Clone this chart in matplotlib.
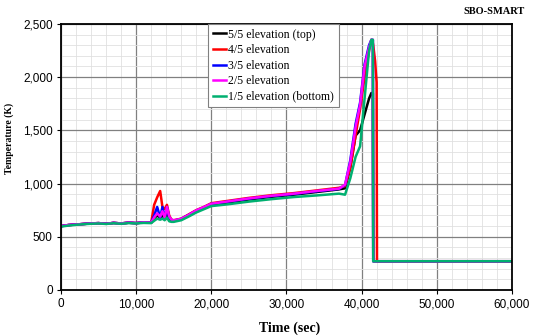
import matplotlib
matplotlib.use("Agg")
from matplotlib import pyplot as plt
from matplotlib.ticker import MultipleLocator, FuncFormatter

# time axis (sec), shared by all elevations
time = [0, 1000, 2000, 3000, 4000, 5000, 6000, 7000, 8000, 9000, 10000, 11000, 12000,
        12400, 12800, 13200, 13500, 13800, 14100, 14400, 14700, 15000,
        16000, 17000, 18000, 19000, 20000, 22000, 25000, 28000, 31000, 34000, 37000,
        37800, 38500, 39200, 39800, 40400, 41000, 41300, 41500, 41550, 41800, 42000, 42050, 60000]

temp_top = [600, 610, 615, 620, 625, 628, 622, 630, 625, 632, 628, 635, 632,
            670, 700, 680, 700, 670, 720, 670, 655, 650,
            665, 700, 740, 770, 800, 820, 850, 875, 895, 920, 945,
            955, 1150, 1450, 1500, 1650, 1800, 1850, 1850, 270, 270, 270, 270, 270]
temp_4 = [600, 610, 615, 620, 625, 628, 622, 630, 625, 632, 628, 635, 632,
          800, 870, 930, 780, 760, 800, 700, 660, 655,
          670, 710, 750, 780, 815, 835, 865, 890, 910, 935, 960,
          975, 1150, 1450, 1700, 2000, 2250, 2350, 2320, 2300, 2150, 1950, 270, 270]
temp_3 = [600, 610, 615, 620, 625, 628, 622, 630, 625, 632, 628, 635, 632,
          700, 780, 680, 780, 670, 780, 680, 660, 650,
          668, 705, 745, 775, 808, 828, 858, 882, 902, 927, 950,
          985, 1220, 1560, 1760, 2120, 2300, 2350, 2350, 270, 270, 270, 270, 270]
temp_2 = [600, 610, 615, 620, 625, 628, 622, 630, 625, 632, 628, 635, 632,
          680, 720, 690, 740, 680, 780, 690, 660, 655,
          668, 705, 748, 778, 810, 830, 860, 885, 905, 930, 952,
          990, 1200, 1530, 1740, 2100, 2280, 2350, 2350, 270, 270, 270, 270, 270]
temp_bottom = [595, 605, 612, 618, 622, 625, 620, 627, 622, 628, 625, 630, 628,
               650, 670, 660, 670, 655, 680, 645, 640, 640,
               655, 690, 728, 758, 788, 803, 830, 853, 873, 888, 905,
               895, 1050, 1250, 1350, 1800, 2250, 2350, 2350, 270, 270, 270, 270, 270]

labels = ["5/5 elevation (top)", "4/5 elevation", "3/5 elevation", "2/5 elevation", "1/5 elevation (bottom)"]
colors = ["black", "#ff0000", "#0000ff", "#ff00ff", "#00b070"]

fig = plt.figure(figsize=(5.33, 3.36), dpi=100)
ax = fig.add_axes([0.1144, 0.137, 0.846, 0.792])

for temps, lab, col in zip([temp_top, temp_4, temp_3, temp_2, temp_bottom], labels, colors):
    ax.plot(time, temps, color=col, lw=1.8, label=lab)

ax.set_xlim(0, 60000)
ax.set_ylim(0, 2500)
ax.xaxis.set_major_locator(MultipleLocator(10000))
ax.xaxis.set_minor_locator(MultipleLocator(2000))
ax.yaxis.set_major_locator(MultipleLocator(500))
ax.yaxis.set_minor_locator(MultipleLocator(100))
fmt = FuncFormatter(lambda v, p: f"{int(v):,}")
ax.xaxis.set_major_formatter(fmt)
ax.yaxis.set_major_formatter(fmt)

ax.grid(which="major", color="#808080", lw=0.9)
ax.grid(which="minor", color="#e0e0e0", lw=0.6)
ax.set_axisbelow(True)
for s in ax.spines.values():
    s.set_linewidth(1.3)
ax.tick_params(which="major", length=3, labelsize=8.5, pad=3)
ax.tick_params(which="minor", length=0)
for lbl in ax.get_xticklabels() + ax.get_yticklabels():
    lbl.set_fontfamily("Liberation Sans")

ax.set_xlabel("Time (sec)", fontfamily="Liberation Serif", fontweight="bold", fontsize=10)
ax.set_ylabel("Temperature (K)", fontfamily="Liberation Serif", fontweight="bold", fontsize=7)
ax.xaxis.set_label_coords(0.508, -0.117)
ax.yaxis.set_label_coords(-0.105, 0.568)
fig.text(0.985, 0.965, "SBO-SMART", ha="right", va="center",
         fontfamily="Liberation Serif", fontweight="bold", fontsize=7.5)

leg = ax.legend(loc="upper left", bbox_to_anchor=(0.326, 1.0), fancybox=False,
                prop={"family": "Liberation Serif", "size": 8.5}, handlelength=1.1,
                handletextpad=0.2, labelspacing=0.3, borderpad=0.4, framealpha=1,
                borderaxespad=0)
leg.get_frame().set_edgecolor("#808080")
leg.get_frame().set_linewidth(0.8)

fig.savefig("out.png", dpi=100)
